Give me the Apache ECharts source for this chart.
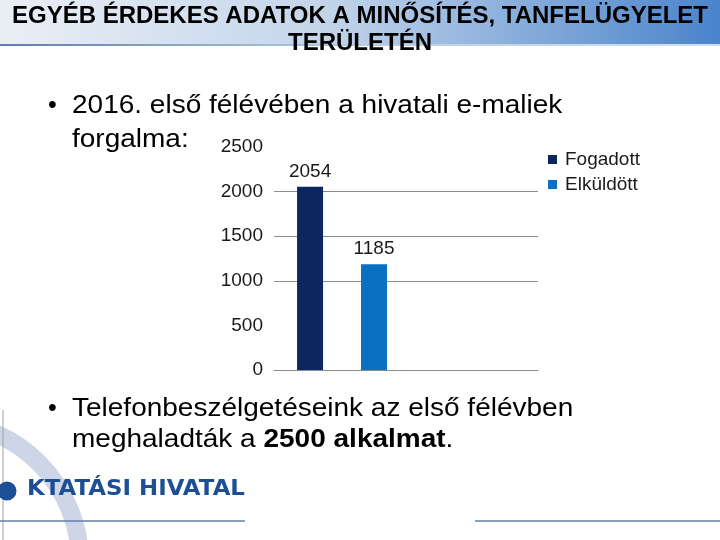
<!DOCTYPE html>
<html>
<head>
<meta charset="utf-8">
<script src="https://cdn.jsdelivr.net/npm/echarts@6/dist/echarts.min.js"></script>
<style>html,body{margin:0;padding:0;background:#fff;}#c{width:720px;height:540px;}</style>
</head>
<body>
<div id="c"></div>
<script>
// ---- data ----
var categories = ['2016. I. félév'];
var seriesNames = ['Fogadott', 'Elküldött'];
var fogadott = [2054];
var elkuldott = [1185];
var yTicks = [0, 500, 1000, 1500, 2000, 2500];
var titleLines = ['EGYÉB ÉRDEKES ADATOK A MINŐSÍTÉS, TANFELÜGYELET', 'TERÜLETÉN'];

var FONT = '"Liberation Sans", Arial, sans-serif';
var chart = echarts.init(document.getElementById('c'), null, {renderer: 'canvas'});

function txt(x, y, text, font, opts) {
  var o = {type: 'text', z: 5, x: x, y: y, scaleX: (opts && opts.sx) || 1,
    style: {text: text, font: font, fill: '#000', verticalAlign: 'middle', align: (opts && opts.align) || 'left'}};
  if (opts && opts.rich) o.style.rich = opts.rich;
  if (opts && opts.fill) o.style.fill = opts.fill;
  return o;
}
var BF = '25px ' + FONT;
var SX = 1.12;

var option = {
  backgroundColor: '#ffffff',
  animation: false,
  graphic: [
    // header band
    {type: 'rect', z: 0, shape: {x: 0, y: 0, width: 720, height: 44},
     style: {fill: new echarts.graphic.LinearGradient(0, 0, 1, 0, [
       {offset: 0, color: '#eaeff5'}, {offset: 0.45, color: '#c4d5ea'}, {offset: 1, color: '#4a84cb'}])}},
    {type: 'rect', z: 0, shape: {x: 0, y: 44, width: 720, height: 2},
     style: {fill: new echarts.graphic.LinearGradient(0, 0, 1, 0, [
       {offset: 0, color: '#5a80b0'}, {offset: 0.5, color: '#b9cde2'}, {offset: 1, color: '#cfe0ec'}])}},
    txt(360, 16, titleLines[0], 'bold 24px ' + FONT, {align: 'center'}),
    txt(360, 43, titleLines[1], 'bold 24px ' + FONT, {align: 'center'}),
    // decorative arc
    {type: 'circle', z: 0, shape: {cx: -60, cy: 562, r: 140},
     style: {fill: 'none', stroke: '#cdd5e6', lineWidth: 18}},
    {type: 'line', z: 0, shape: {x1: 3, y1: 410, x2: 3, y2: 540},
     style: {stroke: '#a0a0a0', lineWidth: 1}},
    // bullets
    txt(48, 106, '•', BF),
    txt(72, 106, '2016. első félévében a hivatali e-maliek', BF, {sx: SX}),
    txt(72, 140, 'forgalma:', BF, {sx: SX}),
    txt(48, 409, '•', BF),
    txt(72, 409, 'Telefonbeszélgetéseink az első félévben', BF, {sx: SX}),
    txt(72, 440, '{n|meghaladták a }{b|2500 alkalmat}{n|.}', BF, {sx: SX, rich: {
      n: {font: BF, fill: '#000'}, b: {font: 'bold ' + BF, fill: '#000'}}}),
    // logo
    {type: 'circle', z: 5, shape: {cx: 7, cy: 491, r: 9.5}, style: {fill: '#1c4f95'}},
    txt(27, 490, 'KTATÁSI HIVATAL', 'bold 21px "DejaVu Sans", sans-serif', {sx: 1.09, fill: '#1c4f95'}),
    {type: 'line', z: 5, shape: {x1: 0, y1: 521, x2: 245, y2: 521}, style: {stroke: '#5f80a8', lineWidth: 1.5}},
    {type: 'line', z: 5, shape: {x1: 475, y1: 521, x2: 720, y2: 521}, style: {stroke: '#5f80a8', lineWidth: 1.5}}
  ],
  legend: {
    data: seriesNames,
    orient: 'vertical',
    left: 548, top: 150, padding: 0,
    itemWidth: 9, itemHeight: 9, itemGap: 6,
    icon: 'rect',
    textStyle: {fontFamily: FONT, fontSize: 19, lineHeight: 19, color: '#1a1a1a', padding: [0, 0, 0, 3]}
  },
  grid: {left: 274, right: 182, top: 147, bottom: 170, containLabel: false},
  xAxis: {
    type: 'category', data: categories,
    axisLine: {show: true, lineStyle: {color: '#8c8c8c', width: 1}},
    axisTick: {show: false}, axisLabel: {show: false}, splitLine: {show: false}
  },
  yAxis: {
    type: 'value', min: yTicks[0], max: yTicks[yTicks.length - 1], interval: yTicks[1] - yTicks[0],
    axisLine: {show: false}, axisTick: {show: false},
    axisLabel: {fontFamily: FONT, fontSize: 19, color: '#1a1a1a', margin: 11,
      formatter: function (v) { return String(v); }},
    splitLine: {show: true, lineStyle: {color: ['#8c8c8c', 'rgba(0,0,0,0)', '#8c8c8c', '#8c8c8c', '#8c8c8c', 'rgba(0,0,0,0)'], width: 1}}
  },
  series: [
    {name: seriesNames[0], type: 'bar', data: fogadott, barWidth: 26, barGap: '146%',
     itemStyle: {color: '#0c2660'},
     label: {show: true, position: 'top', distance: 6, fontFamily: FONT, fontSize: 19, color: '#1a1a1a'}},
    {name: seriesNames[1], type: 'bar', data: elkuldott, barWidth: 26, barGap: '146%',
     itemStyle: {color: '#0a70c0'},
     label: {show: true, position: 'top', distance: 6, fontFamily: FONT, fontSize: 19, color: '#1a1a1a'}},
    {name: '_empty1', type: 'bar', data: [null], barWidth: 26, barGap: '146%'},
    {name: '_empty2', type: 'bar', data: [null], barWidth: 26, barGap: '146%'}
  ]
};
chart.setOption(option);
</script>
</body>
</html>
